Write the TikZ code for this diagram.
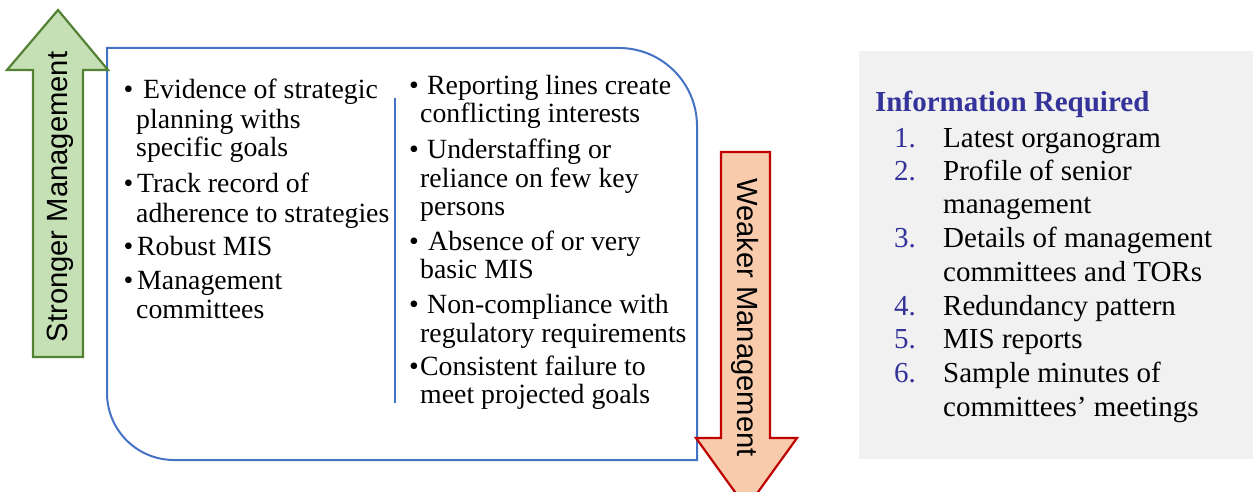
\documentclass[tikz,border=0pt]{standalone}
\usepackage{fontspec}
\setmainfont{Liberation Serif}
\newfontfamily\arialfont{Liberation Sans}
\definecolor{boxblue}{HTML}{4472C4}
\definecolor{gfill}{HTML}{C5E0B4}
\definecolor{gline}{HTML}{548235}
\definecolor{rfill}{HTML}{F8CBAD}
\definecolor{rline}{HTML}{C00000}
\definecolor{graybg}{HTML}{F1F1F1}
\definecolor{navy}{HTML}{333399}
\begin{document}
\begin{tikzpicture}[x=1pt,y=-1pt,
  ltxt/.style={anchor=base west,inner sep=0pt,font=\fontsize{27.8}{30}\selectfont},
  rtxt/.style={anchor=base west,inner sep=0pt,font=\fontsize{29}{33}\selectfont},
  numtxt/.style={rtxt,text=navy},
  arrowlabel/.style={inner sep=0pt,anchor=base,font=\arialfont\fontsize{29.2}{33}\selectfont},
  boxline/.style={draw=boxblue,line width=2pt},
  greenarrow/.style={fill=gfill,draw=gline,line width=2.2pt,line join=miter},
  redarrow/.style={fill=rfill,draw=rline,line width=2.2pt,line join=miter}]
\useasboundingbox (0,0) rectangle (1253,492);
% gray info panel
\fill[graybg] (859,51) rectangle (1253,459);
% main blue box
\draw[boxline] (107,48) -- (619,48) .. controls (662,48) and (697,83) .. (697,126)
  -- (697,460) -- (174,460) .. controls (137,460) and (107,430) .. (107,393) -- cycle;
% divider
\draw[draw=boxblue,line width=1.5pt] (395,98) -- (395,403);
% green up arrow
\draw[greenarrow] (33,357) -- (33,70) -- (7,70) -- (58,10) -- (108,70) -- (83,70) -- (83,357) -- cycle;
\node[arrowlabel,rotate=90] (strong) at (67,197) {Stronger Management};
% red down arrow
\draw[redarrow] (721,152) -- (770,152) -- (770,438) -- (797,438) -- (746.5,508) -- (696,438) -- (721,438) -- cycle;
\node[arrowlabel,rotate=-90] (weak) at (737,317.5) {Weaker Management};
% left column
\node[ltxt] (b1) at (123.5,99) {•};
\node[ltxt] (l1a) at (143,99) {Evidence of strategic};
\node[ltxt] (l1b) at (136,129) {planning withs};
\node[ltxt] (l1c) at (136,157) {specific goals};
\node[ltxt] (b2) at (123.5,193) {•};
\node[ltxt] (l2a) at (137,193) {Track record of};
\node[ltxt] (l2b) at (136,222) {adherence to strategies};
\node[ltxt] (b3) at (123.5,255) {•};
\node[ltxt] (l3a) at (137,255) {Robust MIS};
\node[ltxt] (b4) at (123.5,289) {•};
\node[ltxt] (l4a) at (137,289) {Management};
\node[ltxt] (l4b) at (136,318) {committees};
% right column
\node[ltxt] (c1) at (409,95) {•};
\node[ltxt] (r1a) at (427,95) {Reporting lines create};
\node[ltxt] (r1b) at (420,123) {conflicting interests};
\node[ltxt] (c2) at (409,158) {•};
\node[ltxt] (r2a) at (427,158) {Understaffing or};
\node[ltxt] (r2b) at (420,187) {reliance on few key};
\node[ltxt] (r2c) at (420,215) {persons};
\node[ltxt] (c3) at (409,250) {•};
\node[ltxt] (r3a) at (428,250) {Absence of or very};
\node[ltxt] (r3b) at (420,278) {basic MIS};
\node[ltxt] (c4) at (409,313) {•};
\node[ltxt] (r4a) at (427,313) {Non-compliance with};
\node[ltxt] (r4b) at (420,342) {regulatory requirements};
\node[ltxt] (c5) at (409,375) {•};
\node[ltxt] (r5a) at (420,375) {Consistent failure to};
\node[ltxt] (r5b) at (420,403) {meet projected goals};
% info panel
\node[rtxt,text=navy,font=\fontsize{29}{33}\selectfont\bfseries] (ihead) at (875,112) {Information Required};
\node[numtxt] (n1) at (894,147) {1.};
\node[rtxt] (i1) at (943,147) {Latest organogram};
\node[numtxt] (n2) at (894,180) {2.};
\node[rtxt] (i2a) at (943,180) {Profile of senior};
\node[rtxt] (i2b) at (943,213) {management};
\node[numtxt] (n3) at (894,247) {3.};
\node[rtxt] (i3a) at (943,247) {Details of management};
\node[rtxt] (i3b) at (943,281) {committees and TORs};
\node[numtxt] (n4) at (894,315) {4.};
\node[rtxt] (i4) at (943,315) {Redundancy pattern};
\node[numtxt] (n5) at (894,348) {5.};
\node[rtxt] (i5) at (943,348) {MIS reports};
\node[numtxt] (n6) at (894,382) {6.};
\node[rtxt] (i6a) at (943,382) {Sample minutes of};
\node[rtxt] (i6b) at (943,416) {committees’ meetings};
\end{tikzpicture}
\end{document}
